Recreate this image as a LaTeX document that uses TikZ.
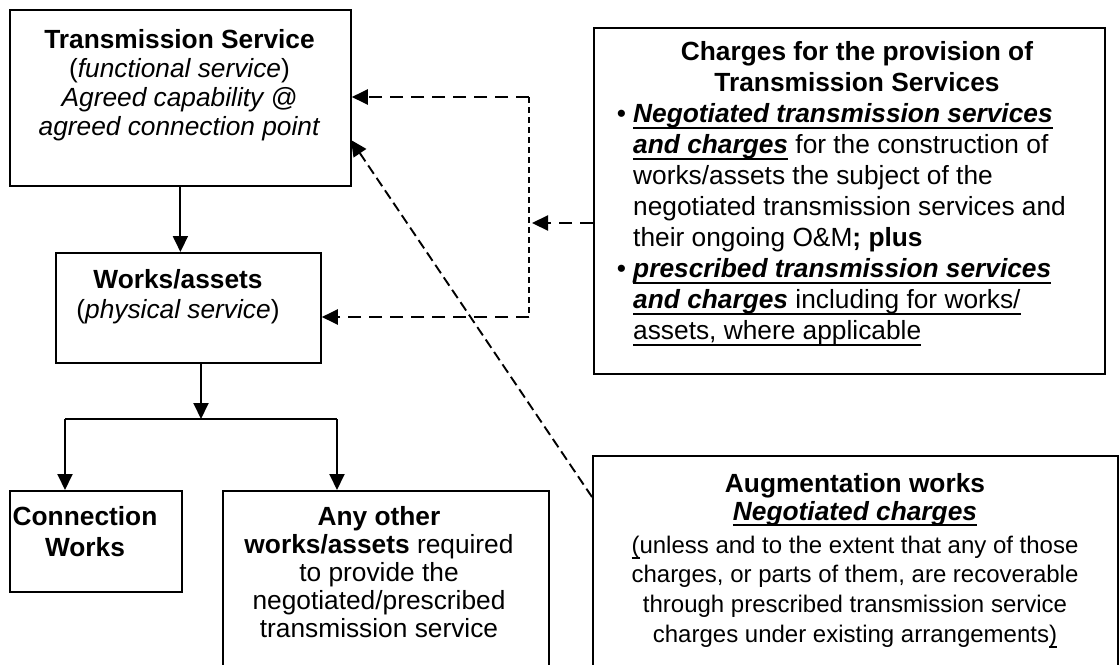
\documentclass[tikz,border=0pt]{standalone}
\usepackage{fontspec}
\setmainfont{Liberation Sans}
\usetikzlibrary{arrows.meta}
\newsavebox\ulsave
\newcommand\ulbox[1]{\sbox\ulsave{#1}\rlap{\rule[-5.8pt]{\wd\ulsave}{1.7pt}}\usebox\ulsave}
\tikzset{
 box/.style={draw, line width=1.8pt, inner sep=0pt, anchor=north west},
 txt/.style={inner sep=0pt, anchor=north, align=center},
 arr/.style={line width=1.9pt, -{Triangle[length=16pt,width=15pt]}},
 hdash/.style={line width=2.2pt, dash pattern=on 13pt off 8pt},
 vdash/.style={line width=1.9pt, dash pattern=on 6pt off 4pt},
 ddash/.style={line width=1.9pt, dash pattern=on 10pt off 5pt},
 dhead/.style={-{Triangle[length=16pt,width=15pt]}},
}
\begin{document}
\begin{tikzpicture}[x=1pt,y=-1pt]
\useasboundingbox (0,0) rectangle (1119,664);
\clip (0,0) rectangle (1119,664);
\fill[white] (0,0) rectangle (1119,664);

% boxes
\node[box, minimum width=341pt, minimum height=176pt] (ts) at (9,9) {};
\node[box, minimum width=265pt, minimum height=110pt] (wa) at (55,252) {};
\node[box, minimum width=172pt, minimum height=101pt] (cw) at (9,490) {};
\node[box, minimum width=326pt, minimum height=220pt] (ao) at (222,490) {};
\node[box, minimum width=511pt, minimum height=346pt] (ch) at (593,27) {};
\node[box, minimum width=525pt, minimum height=260pt] (aug) at (592,455) {};

% texts
\node[txt, font=\fontsize{26.3}{29.2}\selectfont] (tsT) at (179.5,27)
 {\rule{0pt}{21pt}\textbf{Transmission Service}\\(\textit{functional service})\\\textit{Agreed capability @}\\\textit{agreed connection point}};
\node[txt, font=\fontsize{26.3}{30}\selectfont] (waT) at (178,267)
 {\rule{0pt}{21pt}\textbf{Works/assets}\\(\textit{physical service})};
\node[txt, font=\fontsize{26.3}{31}\selectfont] (cwT) at (85,504)
 {\rule{0pt}{21pt}\textbf{Connection}\\\textbf{Works}};
\node[txt, font=\fontsize{26.3}{28}\selectfont] (aoT) at (379,504)
 {\rule{0pt}{21pt}\textbf{Any other}\\\textbf{works/assets} required\\to provide the\\negotiated/prescribed\\transmission service};
\node[txt, font=\fontsize{26.3}{31}\selectfont] (chT) at (857,39.5)
 {\rule{0pt}{21pt}\textbf{Charges for the provision of}\\\textbf{Transmission Services}};
\node[txt, anchor=north west, align=left, font=\fontsize{26.3}{31}\selectfont] (chB) at (633,101.5)
 {\rule{0pt}{21pt}\llap{•\hspace{7pt}}\ulbox{\textbf{\textit{Negotiated transmission services}}}\\
  \ulbox{\textbf{\textit{and charges}}} for the construction of\\
  works/assets the subject of the\\
  negotiated transmission services and\\
  their ongoing O\&M\textbf{; plus}\\
  \llap{•\hspace{7pt}}\ulbox{\textbf{\textit{prescribed transmission services}}}\\
  \ulbox{\textbf{\textit{and charges}} including for works/}\\
  \ulbox{assets, where applicable}};
\node[txt, font=\fontsize{26.3}{28}\selectfont] (augT) at (855,471)
 {\rule{0pt}{21pt}\textbf{Augmentation works}\\\ulbox{\textbf{\textit{Negotiated charges}}}};
\node[txt, font=\fontsize{24}{29.7}\selectfont] (augB) at (855,534)
 {\rule{0pt}{19pt}\ulbox{(}unless and to the extent that any of those\\charges, or parts of them, are recoverable\\through prescribed transmission service\\charges under existing arrangements\ulbox{)}};

% junction coordinates
\coordinate (j1) at (529,97);
\coordinate (j2) at (529,317);
\coordinate (jm) at (532,223);
\coordinate (br) at (201,419);
\coordinate (bl) at (65,419);
\coordinate (bR) at (337,419);
\coordinate (dg) at (592,497);
\coordinate (dt) at (351,140);

% solid connectors
\draw[arr] (ts.south) -- (ts.south |- wa.north);
\draw[arr] (wa.south -| br) -- (br);
\draw[line width=1.9pt] (bl) -- (bR);
\draw[arr] (bl) -- (bl |- cw.north);
\draw[arr] (bR) -- (bR |- ao.north);

% dashed connectors
\draw[hdash, dhead] (j1) -- (j1 -| ts.east);
\draw[vdash] (j1) -- (j2);
\draw[hdash, dhead] (j2) -- (j2 -| wa.east);
\draw[hdash, dhead] (jm -| ch.west) -- (jm);
\draw[ddash, dhead] (dg) -- (dt);
\end{tikzpicture}
\end{document}
